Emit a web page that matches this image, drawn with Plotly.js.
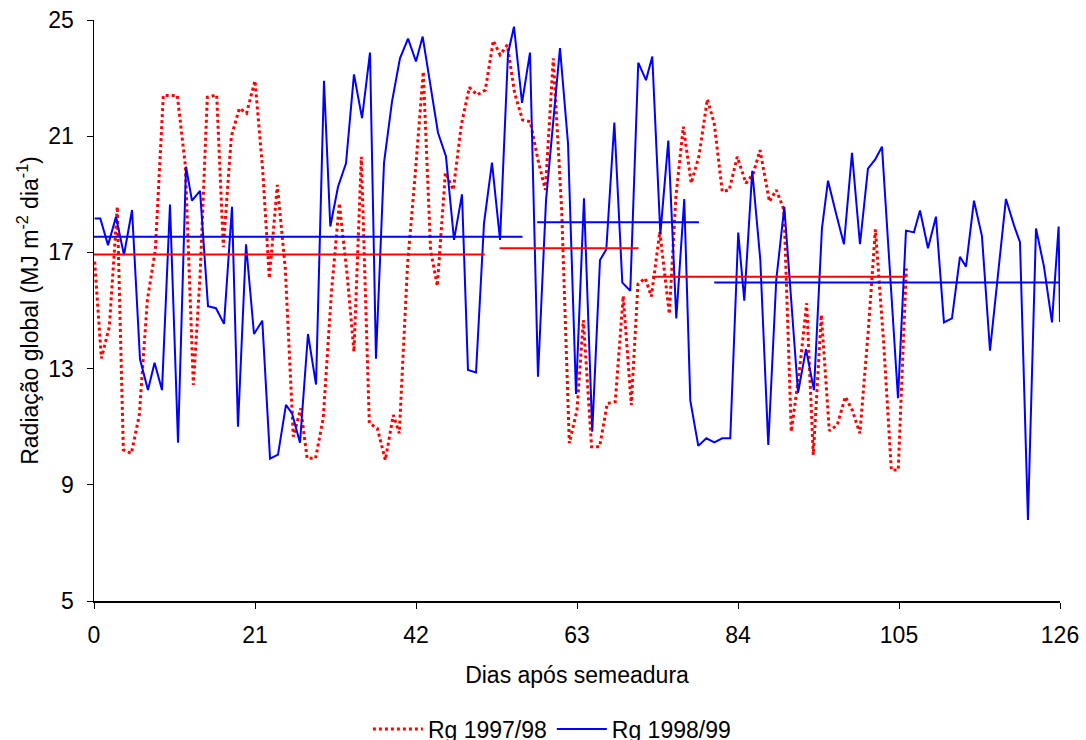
<!DOCTYPE html>
<html>
<head>
<meta charset="utf-8">
<script src="https://cdn.plot.ly/plotly-3.0.1.min.js"></script>
<style>html,body{margin:0;padding:0;background:#fff;}#chart{width:1086px;height:740px;}</style>
</head>
<body>
<div id="chart"></div>
<script>
// Rg 1997/98 (red, dotted)
const redDays = [0.09,0.96,2.0,3.04,3.83,4.87,5.91,6.96,8.0,9.04,9.95,10.87,11.91,12.96,13.83,14.78,16.0,16.87,17.91,18.96,19.9,21.0,22.0,22.87,23.91,24.95,26.0,26.96,27.8,28.9,29.9,30.96,32.0,33.0,33.91,34.87,35.91,36.96,38.0,39.04,39.82,40.9,41.9,42.95,43.9,44.78,45.83,46.87,47.91,48.96,50.0,51.04,52.09,52.96,53.91,54.87,55.9,56.9,57.9,58.87,59.91,61.0,62.0,63.0,63.83,64.9,65.95,66.95,67.99,69.03,70.08,70.95,71.91,72.7,73.8,75.04,75.9,76.87,77.9,78.9,80.0,80.9,81.95,82.86,83.9,85.04,86.0,86.87,88.1,89.0,90.0,90.95,92.0,92.96,93.82,94.87,95.91,96.95,98.0,98.9,99.9,101.0,101.92,103.0,104.0,104.9,105.96];
const redRg = [16.68,13.35,14.44,18.57,10.2,10.08,11.4,15.36,17.08,22.4,22.4,22.4,20.0,12.44,16.16,22.34,22.42,17.18,20.98,21.96,21.79,22.91,19.84,16.11,19.32,16.45,10.66,11.63,9.91,9.91,11.29,15.59,18.69,16.28,13.58,20.29,11.12,10.94,9.85,11.4,10.77,16.6,19.7,23.22,17.08,15.84,19.74,19.15,21.39,22.68,22.42,22.59,24.29,23.8,24.14,22.48,21.56,21.5,20.2,19.15,23.68,18.46,10.43,11.57,14.67,10.31,10.31,11.8,11.86,15.5,11.75,15.91,16.11,15.48,17.71,14.88,18.92,21.33,19.38,20.3,22.27,21.44,19.09,19.15,20.29,19.38,19.72,20.52,18.75,19.15,18.46,10.83,12.9,15.25,10.03,14.85,10.86,11.06,12.03,11.57,10.77,14.33,17.79,13.88,9.51,9.51,16.45];

// Rg 1998/99 (blue, solid)
const blueDays = [0.09,0.82,1.83,2.87,3.91,4.96,6.0,7.04,7.9,8.87,9.91,10.96,12.0,12.78,13.83,14.87,15.91,16.96,18.0,18.78,19.83,20.87,21.95,22.96,24.0,25.04,25.83,26.87,27.91,28.96,30.0,30.82,31.83,32.87,33.91,34.96,36.0,36.78,37.83,38.87,39.91,40.96,42.0,42.87,44.87,45.91,46.96,48.0,48.78,49.83,50.87,51.91,52.96,54.0,54.78,55.83,56.87,57.91,58.96,60.78,61.83,62.87,63.91,64.99,66.0,66.82,67.87,68.91,69.95,70.99,72.0,72.82,73.87,74.91,75.95,76.99,77.78,78.82,79.87,80.91,81.95,82.99,84.03,84.82,85.86,86.91,87.95,88.99,90.04,91.83,92.87,93.91,94.95,95.74,96.78,97.82,98.87,99.91,100.95,101.9,102.78,104.87,105.91,106.95,107.74,108.78,109.82,110.86,111.91,112.95,113.74,114.78,115.82,116.87,118.95,119.99,120.78,121.82,122.87,123.91,124.95,125.82,126.0];
const blueRg = [18.17,18.17,17.25,18.23,16.91,18.46,13.32,12.26,13.2,12.26,18.65,10.45,19.95,18.78,19.12,15.15,15.08,14.54,18.57,11.0,17.28,14.19,14.65,9.9,10.04,11.75,11.46,10.45,14.19,12.45,22.91,17.89,19.26,20.07,23.13,21.62,23.88,13.34,20.09,22.19,23.68,24.36,23.57,24.43,21.12,20.3,17.43,19.0,12.95,12.87,18.0,20.09,17.43,23.85,24.77,22.15,23.88,12.72,18.8,24.03,20.75,12.13,18.86,10.83,16.74,17.1,21.47,15.96,15.68,23.53,22.93,23.74,17.63,20.85,14.73,18.84,11.9,10.34,10.6,10.46,10.6,10.6,17.68,15.34,19.81,16.74,10.37,16.05,18.57,12.17,13.67,12.26,17.83,19.47,18.35,17.28,20.43,17.28,19.88,20.2,20.64,11.98,17.75,17.69,18.44,17.14,18.23,14.59,14.73,16.85,16.51,18.78,17.56,13.62,18.84,17.94,17.35,7.79,17.82,16.51,14.59,17.89,14.6];

// Period means (horizontal segments)
const redMeanStart = [0, 52.9, 72.8];
const redMeanEnd   = [50.96, 71.0, 105.95];
const redMeanValue = [16.93, 17.14, 16.16];
const blueMeanStart = [0, 57.8, 80.9];
const blueMeanEnd   = [55.9, 78.9, 126];
const blueMeanValue = [17.54, 18.04, 15.96];

const xTicks = [0, 21, 42, 63, 84, 105, 126];
const yTicks = [5, 9, 13, 17, 21, 25];

const RED = '#FF0000', BLUE = '#0000FF';
const FONT = 'Liberation Sans, Arial, sans-serif';
const FS = 23;

const traces = [
  {x: redDays, y: redRg, type: 'scatter', mode: 'lines', name: 'Rg 1997/98',
   line: {color: RED, width: 3, dash: '3px,3px'}},
  {x: blueDays, y: blueRg, type: 'scatter', mode: 'lines', name: 'Rg 1998/99',
   line: {color: BLUE, width: 2}}
];
function meanTraces(starts, ends, vals, color) {
  starts.forEach((s, i) => {
    traces.push({x: [s, ends[i]], y: [vals[i], vals[i]], type: 'scatter', mode: 'lines',
      showlegend: false, hoverinfo: 'skip', line: {color: color, width: 2}});
  });
}
meanTraces(redMeanStart, redMeanEnd, redMeanValue, RED);
meanTraces(blueMeanStart, blueMeanEnd, blueMeanValue, BLUE);

const layout = {
  width: 1086, height: 740,
  margin: {l: 94, r: 26, t: 20, b: 139, autoexpand: false},
  paper_bgcolor: '#fff', plot_bgcolor: '#fff',
  font: {family: FONT, size: FS, color: '#000'},
  showlegend: true,
  legend: {orientation: 'h', xref: 'paper', x: 0.474, xanchor: 'center',
           yref: 'container', y: 0.044, yanchor: 'top',
           font: {family: FONT, size: FS, color: '#000'}, itemwidth: 50, tracegroupgap: 0,
           bgcolor: 'rgba(0,0,0,0)'},
  xaxis: {range: [0, 126], tickvals: xTicks, ticktext: xTicks.map(String),
          ticks: 'outside', ticklen: 6, tickcolor: '#000', tickwidth: 1,
          showline: true, linecolor: '#000', linewidth: 1.5, showgrid: false, zeroline: false,
          tickfont: {family: FONT, size: FS}, automargin: false, ticklabelstandoff: 7,
          title: {text: 'Dias após semeadura', font: {family: FONT, size: FS}, standoff: 20}},
  yaxis: {range: [5, 25], tickvals: yTicks, ticktext: yTicks.map(String),
          ticks: 'outside', ticklen: 6, tickcolor: '#000', tickwidth: 1,
          showline: true, linecolor: '#000', linewidth: 1.5, showgrid: false, zeroline: false,
          tickfont: {family: FONT, size: FS}, automargin: false, ticklabelstandoff: 8,
          title: {text: 'Radiação global (MJ m<sup>-2</sup> dia<sup>-1</sup>)', font: {family: FONT, size: FS}, standoff: 3}}
};

Plotly.newPlot('chart', traces, layout, {staticPlot: true, displayModeBar: false});
</script>
</body>
</html>
